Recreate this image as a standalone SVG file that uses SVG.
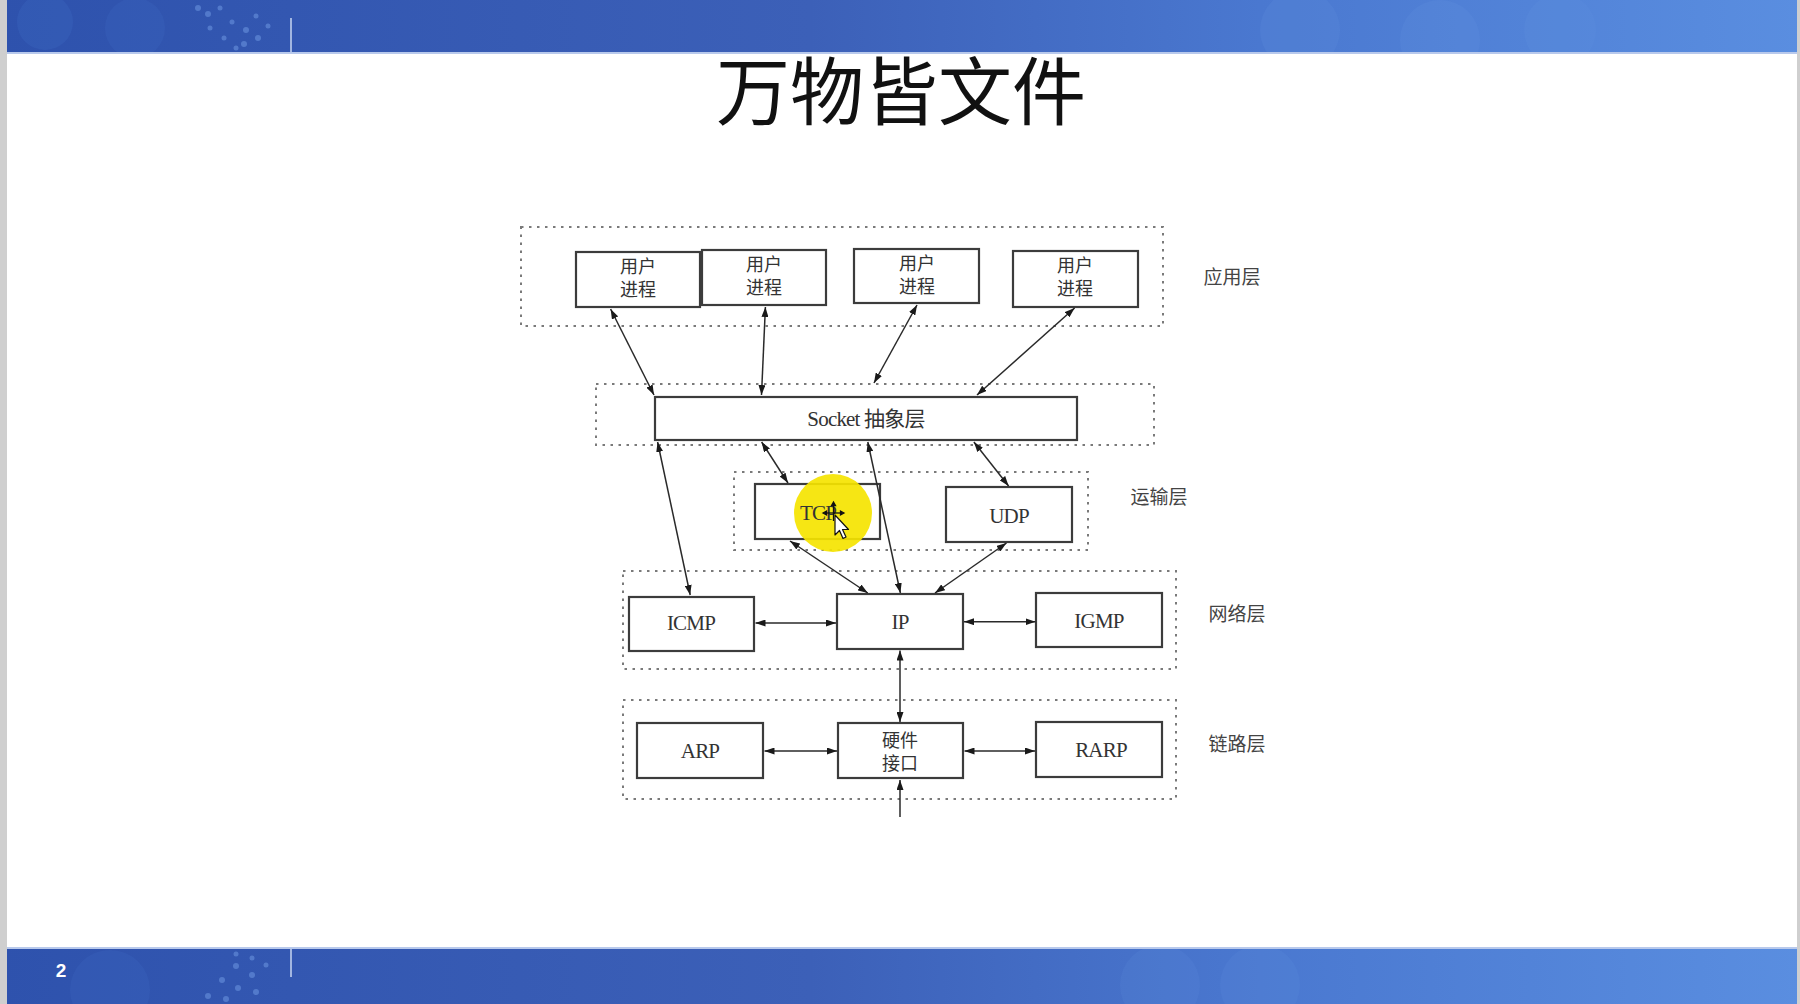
<svg xmlns="http://www.w3.org/2000/svg" width="1800" height="1004" viewBox="0 0 1800 1004">
<style>
.box{fill:#fff;stroke:#3c3c3c;stroke-width:2.2}
.grp{fill:none;stroke:#7a7a7a;stroke-width:2;stroke-dasharray:2.5 5.5}
.lat{font-family:"Liberation Serif","Noto Sans CJK SC",serif;font-size:21px;fill:#333;text-anchor:middle;letter-spacing:-0.8px}
.cjk{font-family:"Noto Sans CJK SC",sans-serif;font-size:18px;fill:#333;text-anchor:middle}
.lbl{font-family:"Noto Sans CJK SC",sans-serif;font-size:19px;fill:#444;text-anchor:middle}
.con{stroke:#2a2a2a;stroke-width:1.5;fill:none;marker-end:url(#ah);marker-start:url(#ah)}
</style>
<defs>
<marker id="ah" viewBox="0 0 10 7" refX="10" refY="3.5" markerWidth="10" markerHeight="7" markerUnits="userSpaceOnUse" orient="auto-start-reverse">
<path d="M0,0 L10,3.5 L0,7 z" fill="#1a1a1a"/>
</marker>
<linearGradient id="bn" x1="0" y1="0" x2="1" y2="0">
<stop offset="0" stop-color="#2e52ad"/>
<stop offset="0.45" stop-color="#3c60b8"/>
<stop offset="0.7" stop-color="#4a78d0"/>
<stop offset="1" stop-color="#5a8ee0"/>
</linearGradient>
<clipPath id="clipTop"><rect x="0" y="0" width="1800" height="53"/></clipPath>
<clipPath id="clipBot"><rect x="0" y="948" width="1800" height="56"/></clipPath>
</defs>
<rect width="1800" height="1004" fill="#fff"/>
<g id="top-banner">
<rect x="0" y="0" width="1800" height="53" fill="url(#bn)"/>
<g clip-path="url(#clipTop)">
<circle cx="45" cy="22" r="28" fill="#4a78d0" opacity="0.18"/>
<circle cx="135" cy="28" r="30" fill="#4a78d0" opacity="0.15"/>
<circle cx="1300" cy="30" r="40" fill="#6b9ae6" opacity="0.15"/>
<circle cx="1440" cy="40" r="40" fill="#6b9ae6" opacity="0.15"/>
<circle cx="1560" cy="30" r="36" fill="#6b9ae6" opacity="0.12"/>
<g fill="#7aa5ec" opacity="0.45">
<circle cx="198" cy="8" r="3"/><circle cx="208" cy="14" r="3"/><circle cx="220" cy="8" r="2.5"/><circle cx="232" cy="22" r="2.5"/><circle cx="246" cy="30" r="3"/><circle cx="256" cy="16" r="2.5"/><circle cx="244" cy="44" r="3"/><circle cx="224" cy="38" r="2.5"/><circle cx="258" cy="38" r="3"/><circle cx="268" cy="26" r="2.5"/><circle cx="236" cy="48" r="2.5"/><circle cx="210" cy="28" r="2.5"/>
</g>
</g>
<line x1="291" y1="18" x2="291" y2="53" stroke="#c9d6f2" stroke-width="1.5"/>
<rect x="0" y="52" width="1800" height="2" fill="#b8c9ec"/>
</g>
<g id="bottom-banner">
<rect x="0" y="948" width="1800" height="56" fill="url(#bn)"/>
<g clip-path="url(#clipBot)">
<circle cx="110" cy="990" r="40" fill="#4a78d0" opacity="0.15"/>
<circle cx="1160" cy="985" r="40" fill="#6b9ae6" opacity="0.12"/>
<circle cx="1260" cy="985" r="40" fill="#6b9ae6" opacity="0.12"/>
<g fill="#7aa5ec" opacity="0.45">
<circle cx="236" cy="954" r="2.5"/><circle cx="252" cy="958" r="2.5"/><circle cx="236" cy="966" r="3"/><circle cx="252" cy="975" r="3"/><circle cx="266" cy="965" r="2.5"/><circle cx="222" cy="980" r="3"/><circle cx="238" cy="988" r="3"/><circle cx="256" cy="992" r="3"/><circle cx="208" cy="996" r="3"/><circle cx="226" cy="999" r="3"/>
</g>
</g>
<line x1="291" y1="948" x2="291" y2="977" stroke="#c9d6f2" stroke-width="1.5"/>
<rect x="0" y="947" width="1800" height="2" fill="#b8c9ec"/>
<text x="61" y="977" font-family="Liberation Sans, Arial, sans-serif" font-size="19" font-weight="bold" fill="#fff" text-anchor="middle">2</text>
</g>
<rect x="0" y="0" width="7" height="1004" fill="#cfcfcf"/>
<rect x="1797" y="0" width="3" height="1004" fill="#cfcfcf"/>
<text id="title" x="901" y="119" font-family="Noto Sans CJK SC, sans-serif" font-size="74" fill="#111" text-anchor="middle">万物皆文件</text>

<g id="layer-groups">
<rect id="grp-app" class="grp" x="521" y="227" width="642" height="99"/>
<rect id="grp-socket" class="grp" x="596" y="384" width="558" height="61"/>
<rect id="grp-transport" class="grp" x="734" y="472" width="354" height="78"/>
<rect id="grp-network" class="grp" x="623" y="571" width="553" height="98"/>
<rect id="grp-link" class="grp" x="623" y="700" width="553" height="99"/>
</g>

<g id="layer-labels">
<text class="lbl" x="1232" y="284">应用层</text>
<text class="lbl" x="1159" y="504">运输层</text>
<text class="lbl" x="1237" y="621">网络层</text>
<text class="lbl" x="1237" y="751">链路层</text>
</g>

<g id="proc1"><rect class="box" x="576" y="252" width="124" height="55"/><text class="cjk" x="638" y="273">用户</text><text class="cjk" x="638" y="296">进程</text></g>
<g id="proc2"><rect class="box" x="702" y="250" width="124" height="55"/><text class="cjk" x="764" y="271">用户</text><text class="cjk" x="764" y="294">进程</text></g>
<g id="proc3"><rect class="box" x="854" y="249" width="125" height="54"/><text class="cjk" x="917" y="270">用户</text><text class="cjk" x="917" y="293">进程</text></g>
<g id="proc4"><rect class="box" x="1013" y="251" width="125" height="56"/><text class="cjk" x="1075" y="272">用户</text><text class="cjk" x="1075" y="295">进程</text></g>
<g id="socket"><rect class="box" x="655" y="397" width="422" height="43"/><text class="lat" x="866" y="426" font-size="20">Socket 抽象层</text></g>
<g id="tcp"><rect class="box" x="755" y="484" width="125" height="55"/>
<circle cx="833" cy="513" r="39" fill="#f5e400" opacity="0.92"/>
<text class="lat" x="818" y="520">TCP</text></g>
<g id="udp"><rect class="box" x="946" y="487" width="126" height="55"/><text class="lat" x="1009" y="523">UDP</text></g>
<g id="icmp"><rect class="box" x="629" y="597" width="125" height="54"/><text class="lat" x="691" y="630">ICMP</text></g>
<g id="ip"><rect class="box" x="837" y="594" width="126" height="55"/><text class="lat" x="900" y="629">IP</text></g>
<g id="igmp"><rect class="box" x="1036" y="593" width="126" height="54"/><text class="lat" x="1099" y="628">IGMP</text></g>
<g id="arp"><rect class="box" x="637" y="723" width="126" height="55"/><text class="lat" x="700" y="758">ARP</text></g>
<g id="hw"><rect class="box" x="838" y="723" width="125" height="55"/><text class="cjk" x="900" y="747">硬件</text><text class="cjk" x="900" y="770">接口</text></g>
<g id="rarp"><rect class="box" x="1036" y="722" width="126" height="55"/><text class="lat" x="1101" y="757">RARP</text></g>

<g id="connectors">
<line class="con" x1="610.6" y1="309" x2="654" y2="395"/>
<line class="con" x1="765.4" y1="307" x2="761.5" y2="395"/>
<line class="con" x1="917" y1="305" x2="874" y2="383"/>
<line class="con" x1="1074.6" y1="308" x2="977" y2="395"/>
<line class="con" x1="657.6" y1="442" x2="690.2" y2="595"/>
<line class="con" x1="761.6" y1="442" x2="788" y2="483"/>
<line class="con" x1="867.8" y1="442" x2="900.4" y2="593"/>
<line class="con" x1="973.9" y1="442" x2="1008.6" y2="486"/>
<line class="con" x1="790" y1="541" x2="867.8" y2="593"/>
<line class="con" x1="1006.5" y1="543" x2="935" y2="593"/>
<line class="con" x1="755.5" y1="623" x2="836" y2="623"/>
<line class="con" x1="964" y1="621.7" x2="1035.5" y2="621.7"/>
<line class="con" x1="900" y1="650.5" x2="900" y2="722"/>
<line class="con" x1="764.5" y1="751" x2="837" y2="751"/>
<line class="con" x1="964.5" y1="751" x2="1035" y2="751"/>
<line x1="900" y1="817" x2="900" y2="780" stroke="#2a2a2a" stroke-width="1.5" marker-end="url(#ah)"/>
</g>

<g id="cursor">
<g stroke="#111" stroke-width="1.3" fill="#111">
<line x1="825" y1="513" x2="842" y2="513"/>
<line x1="833.5" y1="504" x2="833.5" y2="521"/>
<path d="M823,513 L826.5,511 L826.5,515 z"/>
<path d="M844,513 L840.5,511 L840.5,515 z"/>
<path d="M833.5,502 L831.5,505.5 L835.5,505.5 z"/>
</g>
<path d="M835,515 L835,535 L839.5,530.5 L843,538.5 L846,537 L842.5,529.5 L848.5,529.5 z" fill="#fff" stroke="#111" stroke-width="1.2" stroke-linejoin="round"/>
</g>
</svg>
